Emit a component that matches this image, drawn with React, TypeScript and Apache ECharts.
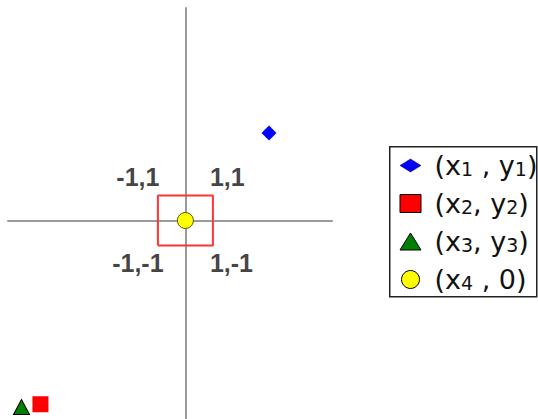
import React, { useEffect, useRef } from 'react';
import * as echarts from 'echarts';

const seriesNames = ['(x1 , y1)', '(x2, y2)', '(x3, y3)', '(x4 , 0)'];
const point1 = [[3.04, 3.5]];
const point2 = [[-5.27, -7.35]];
const point3 = [[-5.96, -7.46]];
const point4 = [[0, 0]];
const unitSquare = [[-1, -1], [1, -1], [1, 1], [-1, 1], [-1, -1]];
const cornerLabels = [[-1, 1], [1, 1], [-1, -1], [1, -1]];
const xRange = [-6.45, 5.33];
const yRange = [-7.94, 8.5];

const TXT = '#111111';

export default function App() {
  const ref = useRef<HTMLDivElement>(null);
  useEffect(() => {
    if (!ref.current) return;
    const chart = echarts.init(ref.current, null, { renderer: 'svg' });
    const labelPos = (v: number[]) => {
      const dy = v[1] > 0 ? -18 : 18.5;
      if (v[0] < 0) return { position: [-19, dy], align: 'center' };
      return { position: [-2, dy], align: 'left' };
    };
    chart.setOption({
      animation: false,
      backgroundColor: '#ffffff',
      grid: { left: 8, top: 8, width: 324, height: 411 },
      xAxis: {
        type: 'value', min: xRange[0], max: xRange[1],
        axisLine: { show: true, onZero: true, lineStyle: { color: '#9a9a9a', width: 2 } },
        axisTick: { show: false }, axisLabel: { show: false }, splitLine: { show: false },
      },
      yAxis: {
        type: 'value', min: yRange[0], max: yRange[1],
        axisLine: { show: true, onZero: true, lineStyle: { color: '#9a9a9a', width: 2 } },
        axisTick: { show: false }, axisLabel: { show: false }, splitLine: { show: false },
      },
      graphic: [
        {
          type: 'rect', z: 0, silent: true,
          shape: { x: 389.75, y: 146.75, width: 147, height: 150 },
          style: { fill: '#fff', stroke: '#222', lineWidth: 1.5 },
        },
      ],
      legend: {
        orient: 'vertical', left: 389, top: 146,
        padding: [6, 0, 9, 10.5],
        itemWidth: 21, itemHeight: 18, itemGap: 11,
        z: 5,
        data: [
          { name: seriesNames[0], icon: 'path://M0,6.5L10.5,0L21,6.5L10.5,13Z', itemStyle: { color: '#0000ff', borderColor: '#000044', borderWidth: 0.5 } },
          { name: seriesNames[1], icon: 'rect', itemStyle: { color: '#ff0000', borderColor: '#000', borderWidth: 1 } },
          { name: seriesNames[2], icon: 'path://M10.5,0L21,17L0,17Z', itemStyle: { color: '#008000', borderColor: '#000', borderWidth: 1 } },
          { name: seriesNames[3], icon: 'circle', itemStyle: { color: '#ffff00', borderColor: '#000', borderWidth: 1 } },
        ],
        formatter: (n: string) => n.replace(/([xy])(\d)/g, '$1{s|$2}'),
        textStyle: {
          fontFamily: 'DejaVu Sans', fontSize: 27, color: TXT, lineHeight: 26,
          padding: [0, 0, 0, 8.5],
          rich: {
            s: { fontFamily: 'DejaVu Sans', fontSize: 19, lineHeight: 14, verticalAlign: 'bottom', color: TXT },
          },
        },
      },
      series: [
        {
          type: 'line', data: unitSquare, symbol: 'none', silent: true,
          lineStyle: { color: '#ff3535', width: 2 },
          z: 1,
        },
        {
          type: 'scatter', silent: true, symbolSize: 2,
          itemStyle: { color: 'rgba(0,0,0,0)' },
          label: {
            show: true,
            formatter: (p: any) => `${p.value[0]},${p.value[1]}`,
            verticalAlign: 'middle',
            fontFamily: 'Liberation Sans', fontSize: 25, fontWeight: 'bold', color: TXT,
          },
          data: cornerLabels.map((v) => ({
            value: v,
            label: labelPos(v),
          })),
        },
        {
          name: seriesNames[0], type: 'scatter', data: point1, symbol: 'diamond', symbolSize: [15, 15],
          itemStyle: { color: '#0000ff', opacity: 1 }, z: 3,
        },
        {
          name: seriesNames[1], type: 'scatter', data: point2, symbol: 'rect', symbolSize: 16,
          itemStyle: { color: '#ff0000', opacity: 1 }, z: 3,
        },
        {
          name: seriesNames[2], type: 'scatter', data: point3, symbol: 'triangle', symbolSize: [16, 15],
          itemStyle: { color: '#008000', borderColor: '#000', borderWidth: 1, opacity: 1 }, z: 3,
        },
        {
          name: seriesNames[3], type: 'scatter', data: point4, symbol: 'circle', symbolSize: 16,
          itemStyle: { color: '#ffff00', borderColor: '#555500', borderWidth: 1, opacity: 1 }, z: 3,
        },
      ],
    });
    return () => chart.dispose();
  }, []);
  return (
    <div
      ref={ref}
      style={{ position: 'fixed', left: 0, top: 0, width: 538, height: 419, background: '#fff' }}
    />
  );
}
